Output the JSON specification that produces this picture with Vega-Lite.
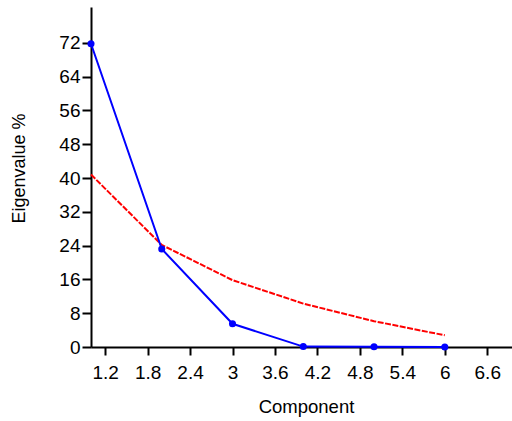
{
  "$schema": "https://vega.github.io/schema/vega-lite/v6.json",
  "width": 421,
  "height": 340,
  "autosize": {"type": "none"},
  "padding": {"left": 91, "top": 7, "right": 0, "bottom": 74},
  "background": "white",
  "config": {
    "view": {"stroke": null},
    "font": "Liberation Sans"
  },
  "datasets": {
    "eig": [
      {"component": 1, "value": 71.8, "series": "Eigenvalue"},
      {"component": 2, "value": 23.2, "series": "Eigenvalue"},
      {"component": 3, "value": 5.5, "series": "Eigenvalue"},
      {"component": 4, "value": 0.1, "series": "Eigenvalue"},
      {"component": 5, "value": 0.05, "series": "Eigenvalue"},
      {"component": 6, "value": 0.0, "series": "Eigenvalue"}
    ],
    "bs": [
      {"component": 1, "value": 40.83, "series": "Broken stick"},
      {"component": 2, "value": 24.17, "series": "Broken stick"},
      {"component": 3, "value": 15.83, "series": "Broken stick"},
      {"component": 4, "value": 10.28, "series": "Broken stick"},
      {"component": 5, "value": 6.11, "series": "Broken stick"},
      {"component": 6, "value": 2.78, "series": "Broken stick"}
    ]
  },
  "encoding": {
    "x": {
      "field": "component", "type": "quantitative",
      "scale": {"domain": [1, 6.95], "nice": false, "zero": false},
      "axis": {
        "values": [1.2, 1.8, 2.4, 3, 3.6, 4.2, 4.8, 5.4, 6, 6.6],
        "format": "~g",
        "title": "Component",
        "labelFont": "Liberation Sans", "titleFont": "Liberation Sans",
        "labelFontSize": 19, "titleFontSize": 18.5, "titleFontWeight": "normal",
        "labelColor": "black", "titleColor": "black",
        "domainColor": "black", "tickColor": "black",
        "domainWidth": 2, "tickWidth": 2, "tickSize": 8,
        "grid": false, "labelPadding": 8, "titlePadding": 15, "titleX": 215
      }
    },
    "y": {
      "field": "value", "type": "quantitative",
      "scale": {"domain": [0, 80.5], "nice": false},
      "axis": {
        "values": [0, 8, 16, 24, 32, 40, 48, 56, 64, 72],
        "title": "Eigenvalue %",
        "labelFont": "Liberation Sans", "titleFont": "Liberation Sans",
        "labelFontSize": 19, "titleFontSize": 18, "titleFontWeight": "normal",
        "labelColor": "black", "titleColor": "black",
        "domainColor": "black", "tickColor": "black",
        "domainWidth": 2, "tickWidth": 2, "tickSize": 9,
        "grid": false, "labelPadding": 2, "titlePadding": 30, "titleY": 161
      }
    }
  },
  "layer": [
    {
      "data": {"name": "bs"},
      "mark": {"type": "line", "color": "#FF0000", "strokeWidth": 2, "strokeDash": [6, 1.5]}
    },
    {
      "data": {"name": "eig"},
      "mark": {"type": "line", "color": "#0000FF", "strokeWidth": 2}
    },
    {
      "data": {"name": "eig"},
      "mark": {"type": "point", "filled": true, "color": "#0000FF", "opacity": 1, "size": 50}
    }
  ]
}
